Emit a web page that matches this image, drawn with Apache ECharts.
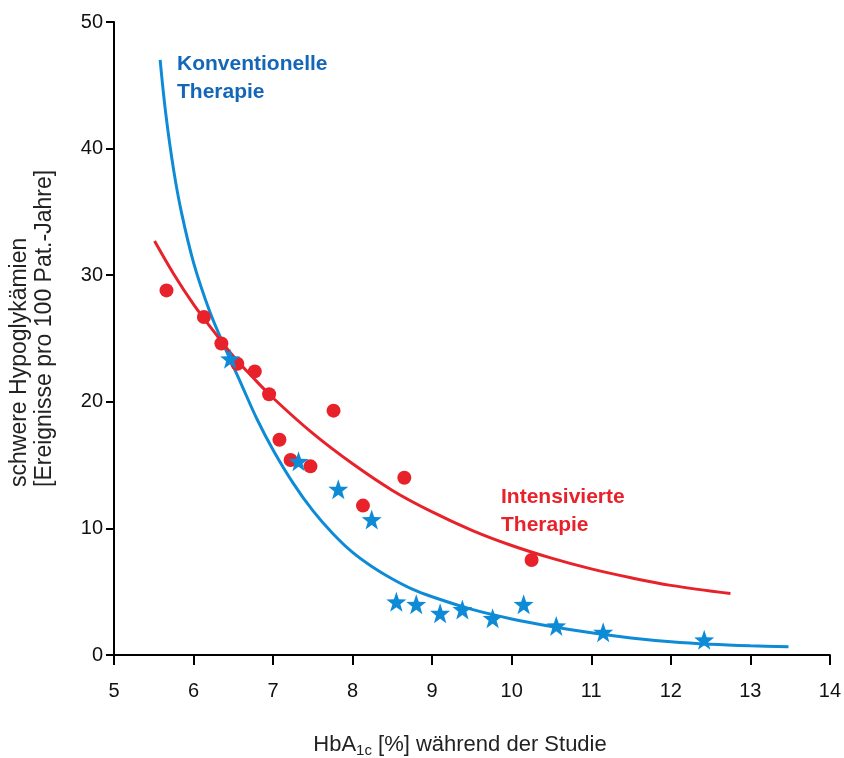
<!DOCTYPE html>
<html>
<head>
<meta charset="utf-8">
<script src="https://cdn.jsdelivr.net/npm/echarts@6/dist/echarts.min.js"></script>
<style>html,body{margin:0;padding:0;background:#fff}#c{width:844px;height:758px}</style>
</head>
<body>
<div id="c"></div>
<script>
// Intensivierte Therapie (red circles)
var intensivX = [5.66, 6.13, 6.35, 6.55, 6.77, 6.95, 7.08, 7.22, 7.47, 7.76, 8.13, 8.65, 10.25];
var intensivY = [28.8, 26.7, 24.6, 23.0, 22.4, 20.6, 17.0, 15.4, 14.9, 19.3, 11.8, 14.0, 7.5];
// Konventionelle Therapie (blue stars)
var konvX = [6.46, 7.32, 7.82, 8.24, 8.55, 8.80, 9.10, 9.38, 9.76, 10.15, 10.56, 11.15, 12.42];
var konvY = [23.4, 15.3, 13.1, 10.7, 4.2, 4.0, 3.3, 3.6, 2.9, 4.0, 2.3, 1.8, 1.2];
// fitted curves
var konvCurveX = [5.58, 5.65, 5.75, 5.85, 6.0, 6.2, 6.4, 6.6, 6.8, 7.0, 7.25, 7.5, 7.75, 8.0, 8.25, 8.5, 8.75, 9.0, 9.5, 10.0, 10.5, 11.0, 11.5, 12.0, 12.5, 13.0, 13.48];
var konvCurveY = [47.0, 42.8, 38.3, 34.9, 31.0, 27.2, 24.2, 21.4, 18.6, 16.2, 13.6, 11.4, 9.6, 8.1, 6.95, 6.0, 5.2, 4.6, 3.6, 2.85, 2.25, 1.75, 1.35, 1.05, 0.85, 0.73, 0.66];
var intensivCurveX = [5.51, 5.75, 6.0, 6.25, 6.5, 6.75, 7.0, 7.5, 8.0, 8.5, 9.0, 9.5, 10.0, 10.5, 11.0, 11.5, 12.0, 12.75];
var intensivCurveY = [32.7, 30.1, 27.7, 25.6, 23.6, 21.9, 20.3, 17.5, 15.1, 13.0, 11.3, 9.85, 8.65, 7.65, 6.8, 6.1, 5.5, 4.85];
var xTicks = [5, 6, 7, 8, 9, 10, 11, 12, 13, 14];
var yTicks = [0, 10, 20, 30, 40, 50];

function zip(a, b) { return a.map(function (v, i) { return [v, b[i]]; }); }

var blue = '#0e8bd6';
var red = '#e8222a';
var font = '"Liberation Sans", Arial, sans-serif';
var star = 'path://M0,-10 L2.35,-3.24 L9.51,-3.09 L3.8,1.24 L5.88,8.09 L0,4 L-5.88,8.09 L-3.8,1.24 L-9.51,-3.09 L-2.35,-3.24 Z';

var chart = echarts.init(document.getElementById('c'));
chart.setOption({
  animation: false,
  backgroundColor: '#fff',
  grid: { left: 114, right: 14, top: 22, bottom: 103, containLabel: false },
  xAxis: {
    type: 'value', min: xTicks[0], max: xTicks[xTicks.length - 1], interval: 1,
    axisLine: { onZero: false, lineStyle: { color: '#000', width: 2 } },
    axisTick: { show: true, length: 10, lineStyle: { color: '#000', width: 2 } },
    axisLabel: { color: '#111', fontSize: 20, fontFamily: font, margin: 26 },
    splitLine: { show: false }
  },
  yAxis: {
    type: 'value', min: yTicks[0], max: yTicks[yTicks.length - 1], interval: 10,
    axisLine: { show: true, onZero: false, lineStyle: { color: '#000', width: 2 } },
    axisTick: { show: true, length: 8, lineStyle: { color: '#000', width: 2 } },
    axisLabel: { color: '#111', fontSize: 20, fontFamily: font, margin: 11 },
    splitLine: { show: false }
  },
  graphic: [
    {
      type: 'text', x: 32, y: 487, rotation: Math.PI / 2,
      style: {
        text: 'schwere Hypoglykämien\n[Ereignisse pro 100 Pat.-Jahre]',
        fill: '#222', font: '23px ' + font, align: 'left', verticalAlign: 'middle', lineHeight: 25
      }
    },
    {
      type: 'text', x: 460, y: 745,
      style: {
        text: 'HbA{sub|1c} [%] während der Studie',
        fill: '#222', font: '22px ' + font, align: 'center', verticalAlign: 'middle',
        rich: { sub: { fontSize: 15, fontFamily: 'Liberation Sans, Arial', fill: '#222', padding: [12, 0, 0, 0] } }
      }
    },
    {
      type: 'text', x: 177, y: 50,
      style: { text: 'Konventionelle\nTherapie', fill: '#1466b8', font: 'bold 21px ' + font, lineHeight: 28 }
    },
    {
      type: 'text', x: 501, y: 483,
      style: { text: 'Intensivierte\nTherapie', fill: red, font: 'bold 21px ' + font, lineHeight: 28 }
    }
  ],
  series: [
    {
      type: 'line', data: zip(konvCurveX, konvCurveY), smooth: 0.35, showSymbol: false,
      lineStyle: { color: blue, width: 3 }, z: 2
    },
    {
      type: 'line', data: zip(intensivCurveX, intensivCurveY), smooth: 0.35, showSymbol: false,
      lineStyle: { color: red, width: 3 }, z: 2
    },
    {
      type: 'scatter', data: zip(intensivX, intensivY), symbol: 'circle', symbolSize: 14,
      itemStyle: { color: red, opacity: 1 }, z: 3
    },
    {
      type: 'scatter', data: zip(konvX, konvY), symbol: star, symbolSize: 20,
      itemStyle: { color: blue, opacity: 1 }, z: 4
    }
  ]
});
</script>
</body>
</html>
